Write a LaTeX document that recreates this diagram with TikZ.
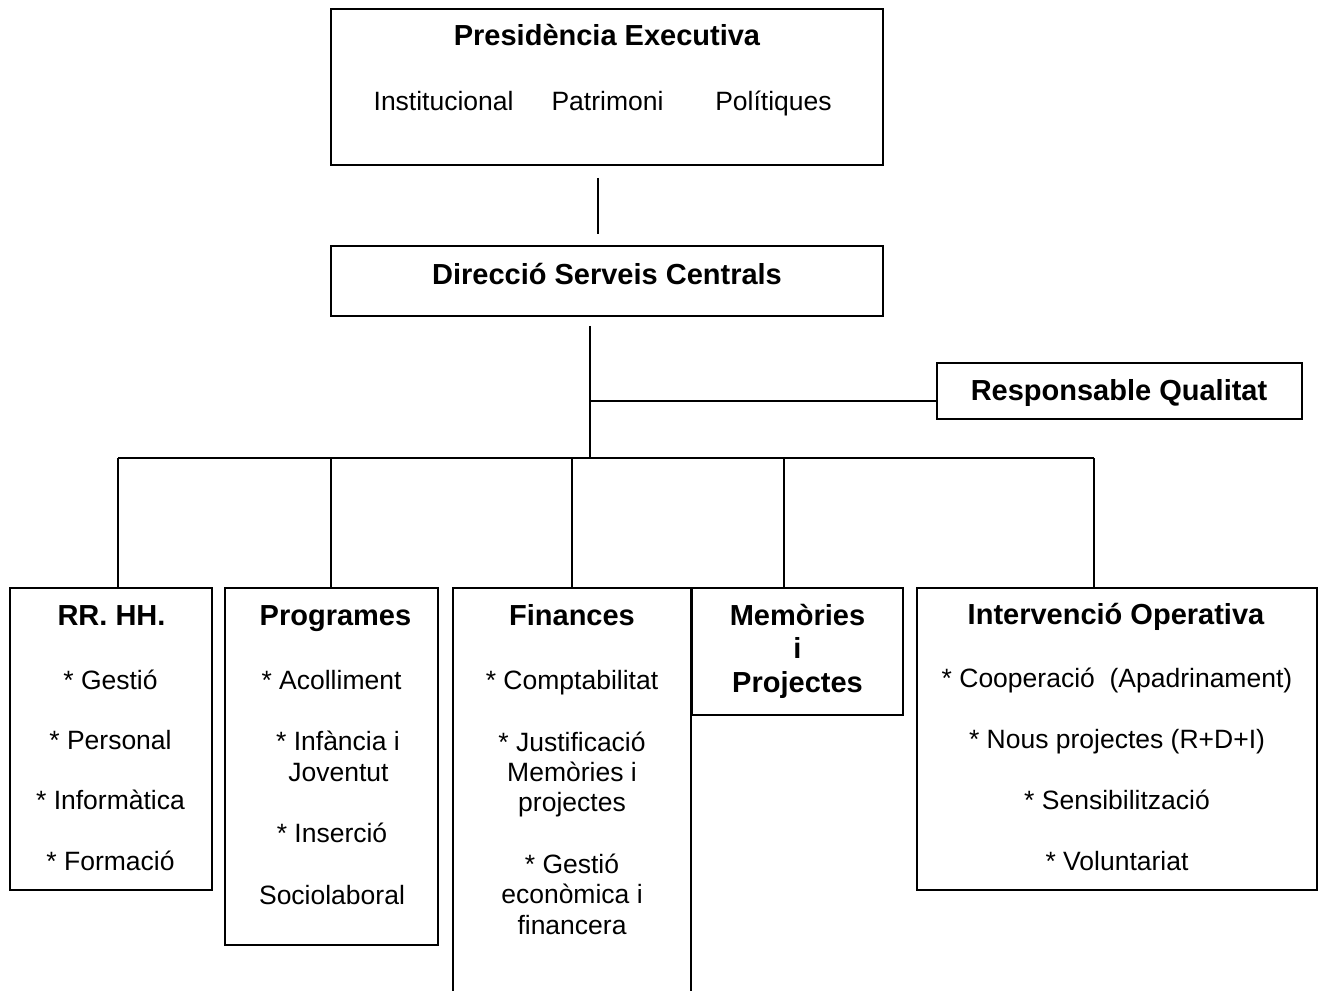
\documentclass[tikz,border=0pt]{standalone}
\usepackage{fontspec}
\setmainfont{Liberation Sans}
\usetikzlibrary{calc}
\begin{document}
\begin{tikzpicture}[x=1pt,y=-1pt,
  box/.style={draw, line width=1.7pt, inner sep=0pt},
  edge/.style={line width=1.7pt},
  tx/.style={anchor=base, inner sep=0pt, font=\fontsize{26.5}{30}\selectfont},
  ttl/.style={anchor=base, inner sep=0pt, font=\fontsize{29}{33}\selectfont\bfseries}]
\useasboundingbox (0,0) rectangle (1324,990);
\clip (0,0) rectangle (1324,990);
\fill[white] (0,0) rectangle (1324,990);

% boxes
\node[box, minimum width=552pt, minimum height=156pt] (pres) at (607,87) {};
\node[box, minimum width=552pt, minimum height=70pt] (dir) at (607,281) {};
\node[box, minimum width=365pt, minimum height=56pt] (resp) at (1119.5,391) {};
\node[box, minimum width=202pt, minimum height=302pt] (rr) at (111,739) {};
\node[box, minimum width=213pt, minimum height=357pt] (prog) at (331.5,766.5) {};
\node[box, minimum width=238pt, minimum height=412pt] (fin) at (572,794) {};
\node[box, minimum width=211pt, minimum height=127pt] (mem) at (797.5,651.5) {};
\node[box, minimum width=400pt, minimum height=302pt] (int) at (1117,739) {};

% texts
\node[ttl] (t-pres) at (607,46) {Presidència Executiva};
\node[tx] (t-inst) at (443.6,110) {Institucional};
\node[tx] (t-patr) at (607.5,110) {Patrimoni};
\node[tx] (t-poli) at (773.5,110) {Polítiques};

\node[ttl] (t-dir) at (607,284) {Direcció Serveis Centrals};
\node[ttl] (t-resp) at (1119,400) {Responsable Qualitat};

\node[ttl] (t-rr) at (111.5,625) {RR. HH.};
\node[tx] (t-rr1) at (110.5,689) {* Gestió};
\node[tx] (t-rr2) at (110.5,749) {* Personal};
\node[tx] (t-rr3) at (110.5,809) {* Informàtica};
\node[tx] (t-rr4) at (110.5,870) {* Formació};

\node[ttl] (t-prog) at (335.5,625) {Programes};
\node[tx] (t-pr1) at (331.5,689) {* Acolliment};
\node[tx] (t-pr2) at (338,750.7) {* Infància i};
\node[tx] (t-pr3) at (338.5,781.7) {Joventut};
\node[tx] (t-pr4) at (332,842.7) {* Inserció};
\node[tx] (t-pr5) at (332,904.3) {Sociolaboral};

\node[ttl] (t-fin) at (572,625) {Finances};
\node[tx] (t-fi1) at (572,689) {* Comptabilitat};
\node[tx] (t-fi2) at (572,751.7) {* Justificació};
\node[tx] (t-fi3) at (572,781.7) {Memòries i};
\node[tx] (t-fi4) at (572,811.7) {projectes};
\node[tx] (t-fi5) at (572,873) {* Gestió};
\node[tx] (t-fi6) at (572,903) {econòmica i};
\node[tx] (t-fi7) at (572,934) {financera};

\node[ttl] (t-mem1) at (797.5,625) {Memòries};
\node[ttl] (t-mem2) at (797.5,658) {i};
\node[ttl] (t-mem3) at (797.5,692) {Projectes};

\node[ttl] (t-int) at (1116,624) {Intervenció Operativa};
\node[tx] (t-in1) at (1117,687) {* Cooperació~ (Apadrinament)};
\node[tx] (t-in2) at (1117,748) {* Nous projectes (R+D+I)};
\node[tx] (t-in3) at (1117,809) {* Sensibilització};
\node[tx] (t-in4) at (1117,870) {* Voluntariat};

% connectors
\draw[edge] ($(pres.south)+(-9,12)$) -- ($(dir.north)+(-9,-11)$);
\coordinate (t0) at ($(dir.south)+(-17,9)$);
\coordinate (tb) at (590,458);
\coordinate (tj) at (590,401);
\draw[edge] (t0) -- (tb);
\draw[edge] (tj) -- (tj -| resp.west);
\coordinate (b1) at (118,458);
\coordinate (b2) at (331,458);
\coordinate (b3) at (572,458);
\coordinate (b4) at (784,458);
\coordinate (b5) at (1094,458);
\draw[edge] (b1) -- (b5);
\draw[edge] (b1) -- (b1 |- rr.north);
\draw[edge] (b2) -- (b2 |- prog.north);
\draw[edge] (b3) -- (b3 |- fin.north);
\draw[edge] (b4) -- (b4 |- mem.north);
\draw[edge] (b5) -- (b5 |- int.north);
\end{tikzpicture}
\end{document}
